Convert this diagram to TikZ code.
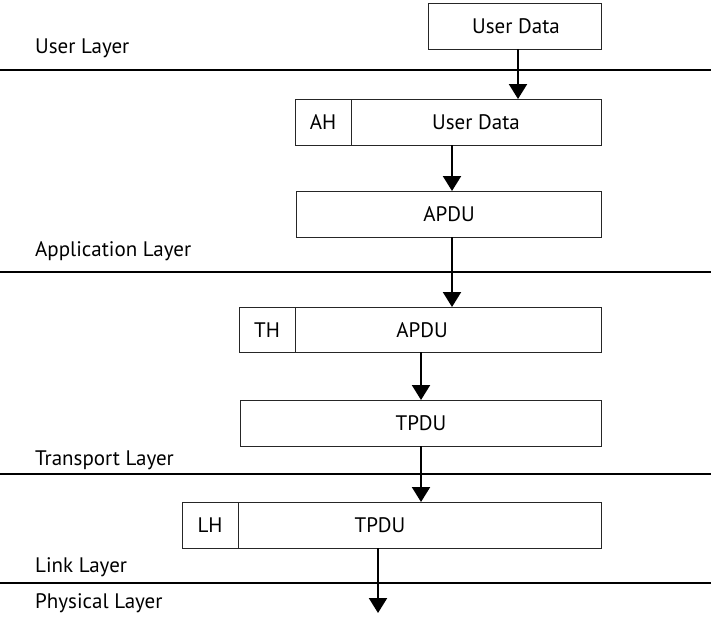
\documentclass[tikz,border=0pt]{standalone}
\usepackage{fontspec}
\setmainfont{PT Sans}
\usetikzlibrary{arrows.meta}
\begin{document}
\begin{tikzpicture}[x=1pt,y=-1pt,
  every node/.style={font=\fontsize{21}{24}\selectfont},
  pbox/.style={draw=black!85,line width=0.9pt,inner sep=0pt},
  layerline/.style={line width=2.3pt},
  arr/.style={line width=2.2pt,-{Triangle[width=18pt,length=15pt]}},
  lbl/.style={anchor=base west,inner sep=0pt},
  txt/.style={anchor=center,inner sep=0pt}]
\useasboundingbox (0,0) rectangle (711,622);
% layer lines
\draw[layerline] (0,70) coordinate (l1a) -- (711,70) coordinate (l1b);
\draw[layerline] (0,272) coordinate (l2a) -- (711,272) coordinate (l2b);
\draw[layerline] (0,474) coordinate (l3a) -- (711,474) coordinate (l3b);
\draw[layerline] (0,583) coordinate (l4a) -- (711,583) coordinate (l4b);
% layer labels
\node[lbl] (lu) at (35,53) {User Layer};
\node[lbl] (la) at (35,256) {Application Layer};
\node[lbl] (lt) at (35,465) {Transport Layer};
\node[lbl] (ll) at (35,572) {Link Layer};
\node[lbl] (lp) at (35,608) {Physical Layer};
% boxes
\draw[pbox] (428,3) rectangle (601,49);
\node[txt] (ud) at (516,26) {User Data};
\coordinate (udS) at (518,49);

\draw[pbox] (295,99) rectangle (601,145);
\draw[pbox] (351,99) -- (351,145);
\node[txt] (ah) at (323,122) {AH};
\node[txt] (ahd) at (476,122) {User Data};
\coordinate (ahN) at (518,99);
\coordinate (ahS) at (452,145);

\draw[pbox] (296,191) rectangle (601,237);
\node[txt] (apdu) at (449,214) {APDU};
\coordinate (apduN) at (452,191);
\coordinate (apduS) at (452,237);

\draw[pbox] (239,307) rectangle (601,352);
\draw[pbox] (295,307) -- (295,352);
\node[txt] (th) at (267,330) {TH};
\node[txt] (thd) at (422,330) {APDU};
\coordinate (thN) at (452,307);
\coordinate (thS) at (421,352);

\draw[pbox] (240,400) rectangle (601,446);
\node[txt] (tpdu) at (421,423) {TPDU};
\coordinate (tpduN) at (421,400);
\coordinate (tpduS) at (421,446);

\draw[pbox] (182,502) rectangle (601,548);
\draw[pbox] (238,502) -- (238,548);
\node[txt] (lh) at (210,525) {LH};
\node[txt] (lhd) at (380,525) {TPDU};
\coordinate (lhN) at (421,502);
\coordinate (lhS) at (378,548);
\coordinate (phy) at (378,613);
% arrows
\draw[arr] (udS) -- (ahN);
\draw[arr] (ahS) -- (apduN);
\draw[arr] (apduS) -- (thN);
\draw[arr] (thS) -- (tpduN);
\draw[arr] (tpduS) -- (lhN);
\draw[arr] (lhS) -- (phy);
\end{tikzpicture}
\end{document}
